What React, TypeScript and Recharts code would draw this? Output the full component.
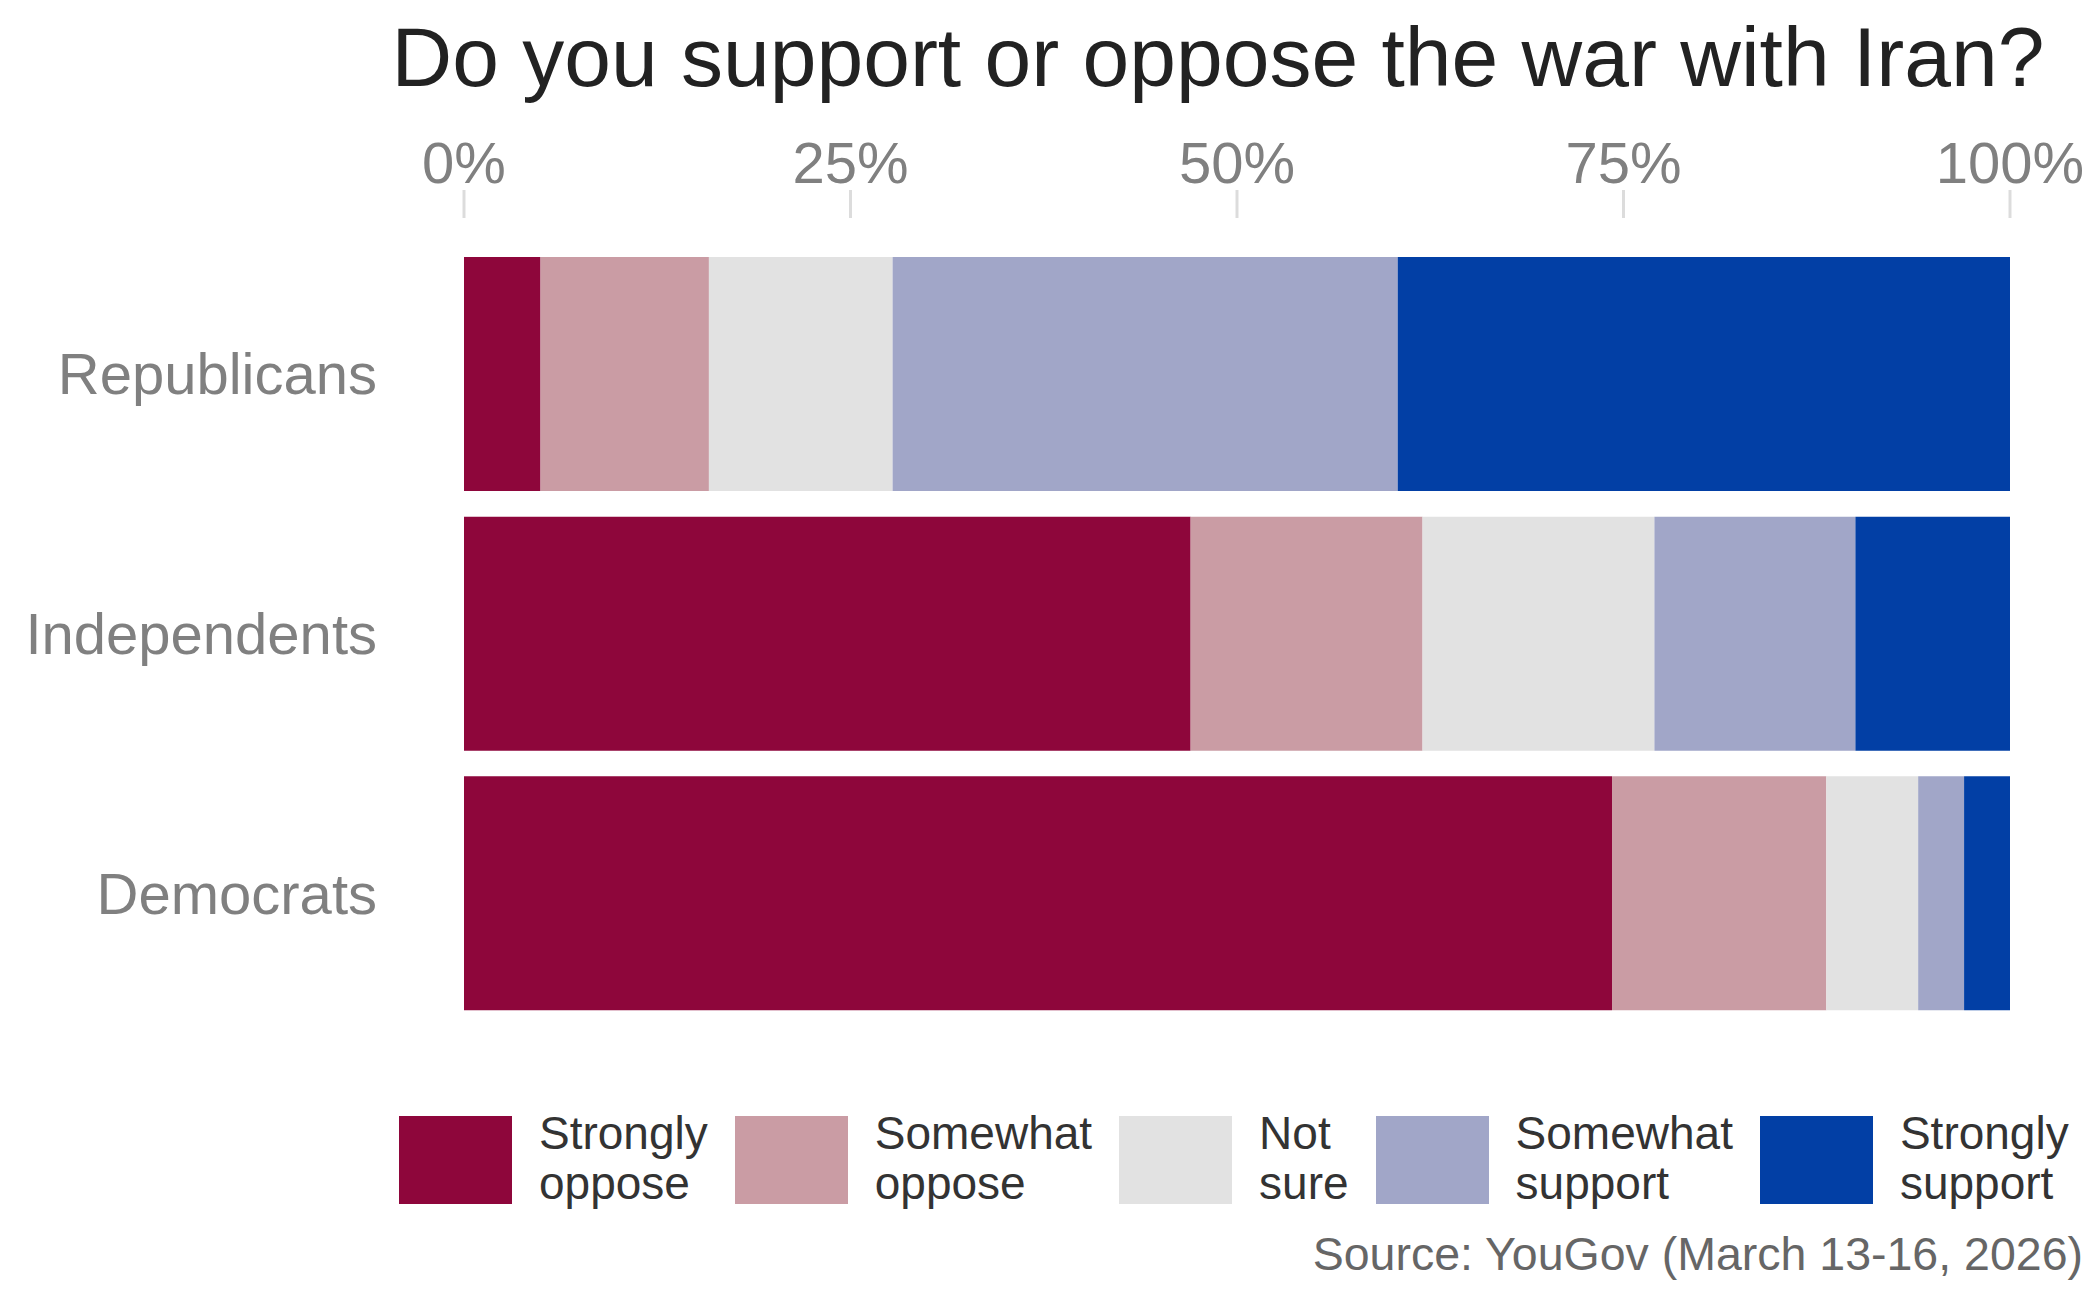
import { BarChart, Bar, XAxis, YAxis } from 'recharts';

const categories = ['Republicans', 'Independents', 'Democrats'];
const stronglyOppose = [5, 47, 75];
const somewhatOppose = [11, 15, 14];
const notSure = [12, 15, 6];
const somewhatSupport = [33, 13, 3];
const stronglySupport = [40, 10, 3];

const seriesKeys = ['stronglyOppose', 'somewhatOppose', 'notSure', 'somewhatSupport', 'stronglySupport'];
const seriesLabels = [
  ['Strongly', 'oppose'],
  ['Somewhat', 'oppose'],
  ['Not', 'sure'],
  ['Somewhat', 'support'],
  ['Strongly', 'support'],
];
const seriesColors = ['#8e063b', '#ca9ca4', '#e2e2e2', '#a1a6c8', '#023fa5'];
const xTicks = [0, 0.25, 0.5, 0.75, 1];

const FONT = '"Liberation Sans", Arial, Helvetica, sans-serif';

const data = categories.map((name, i) => ({
  name,
  stronglyOppose: stronglyOppose[i],
  somewhatOppose: somewhatOppose[i],
  notSure: notSure[i],
  somewhatSupport: somewhatSupport[i],
  stronglySupport: stronglySupport[i],
}));

// top axis: label + short grey tick floating above the bars
function TopTick(props: any) {
  const { x, payload } = props;
  return (
    <g>
      <line x1={x} x2={x} y1={190} y2={218} stroke="#dcdcdc" strokeWidth={3} />
      <text x={x} y={183} textAnchor="middle" fill="#808080" fontSize={58} fontFamily={FONT}>
        {Math.round(payload.value * 100) + '%'}
      </text>
    </g>
  );
}

export default function App() {
  return (
    <div style={{ position: 'absolute', left: 0, top: 0, width: 2100, height: 1297, background: 'white', fontFamily: FONT }}>
      <BarChart
        width={2100}
        height={1297}
        data={data}
        layout="vertical"
        stackOffset="expand"
        barCategoryGap="5%"
        margin={{ top: 144, right: 90, bottom: 274, left: 0 }}
      >
        <XAxis
          type="number"
          orientation="top"
          domain={[0, 1]}
          ticks={xTicks}
          height={100}
          axisLine={false}
          tickLine={false}
          tick={<TopTick />}
          interval={0}
        />
        <YAxis
          type="category"
          dataKey="name"
          width={464}
          axisLine={false}
          tickLine={false}
          tickSize={0}
          tickMargin={87}
          tick={{ fill: '#808080', fontSize: 58, fontFamily: FONT }}
        />
        {seriesKeys.map((k, i) => (
          <Bar key={k} dataKey={k} stackId="a" fill={seriesColors[i]} isAnimationActive={false} />
        ))}
      </BarChart>

      <svg width={2100} height={1297} style={{ position: 'absolute', left: 0, top: 0, pointerEvents: 'none' }}>
        <text x={1218} y={86} textAnchor="middle" fontSize={84} fill="#222222" fontFamily={FONT}>
          Do you support or oppose the war with Iran?
        </text>
        <text x={2083} y={1270} textAnchor="end" fontSize={46.5} fill="#666666" fontFamily={FONT}>
          Source: YouGov (March 13-16, 2026)
        </text>
      </svg>

      <div style={{ position: 'absolute', left: 399, top: 1108, display: 'flex', gap: 27, alignItems: 'flex-start' }}>
        {seriesKeys.map((k, i) => (
          <div key={k} style={{ display: 'flex', alignItems: 'flex-start' }}>
            <div style={{ width: 113, height: 88, marginTop: 8, marginRight: 27, background: seriesColors[i] }} />
            <div style={{ fontSize: 46, lineHeight: '50px', color: '#333333', whiteSpace: 'nowrap' }}>
              {seriesLabels[i][0]}
              <br />
              {seriesLabels[i][1]}
            </div>
          </div>
        ))}
      </div>
    </div>
  );
}
